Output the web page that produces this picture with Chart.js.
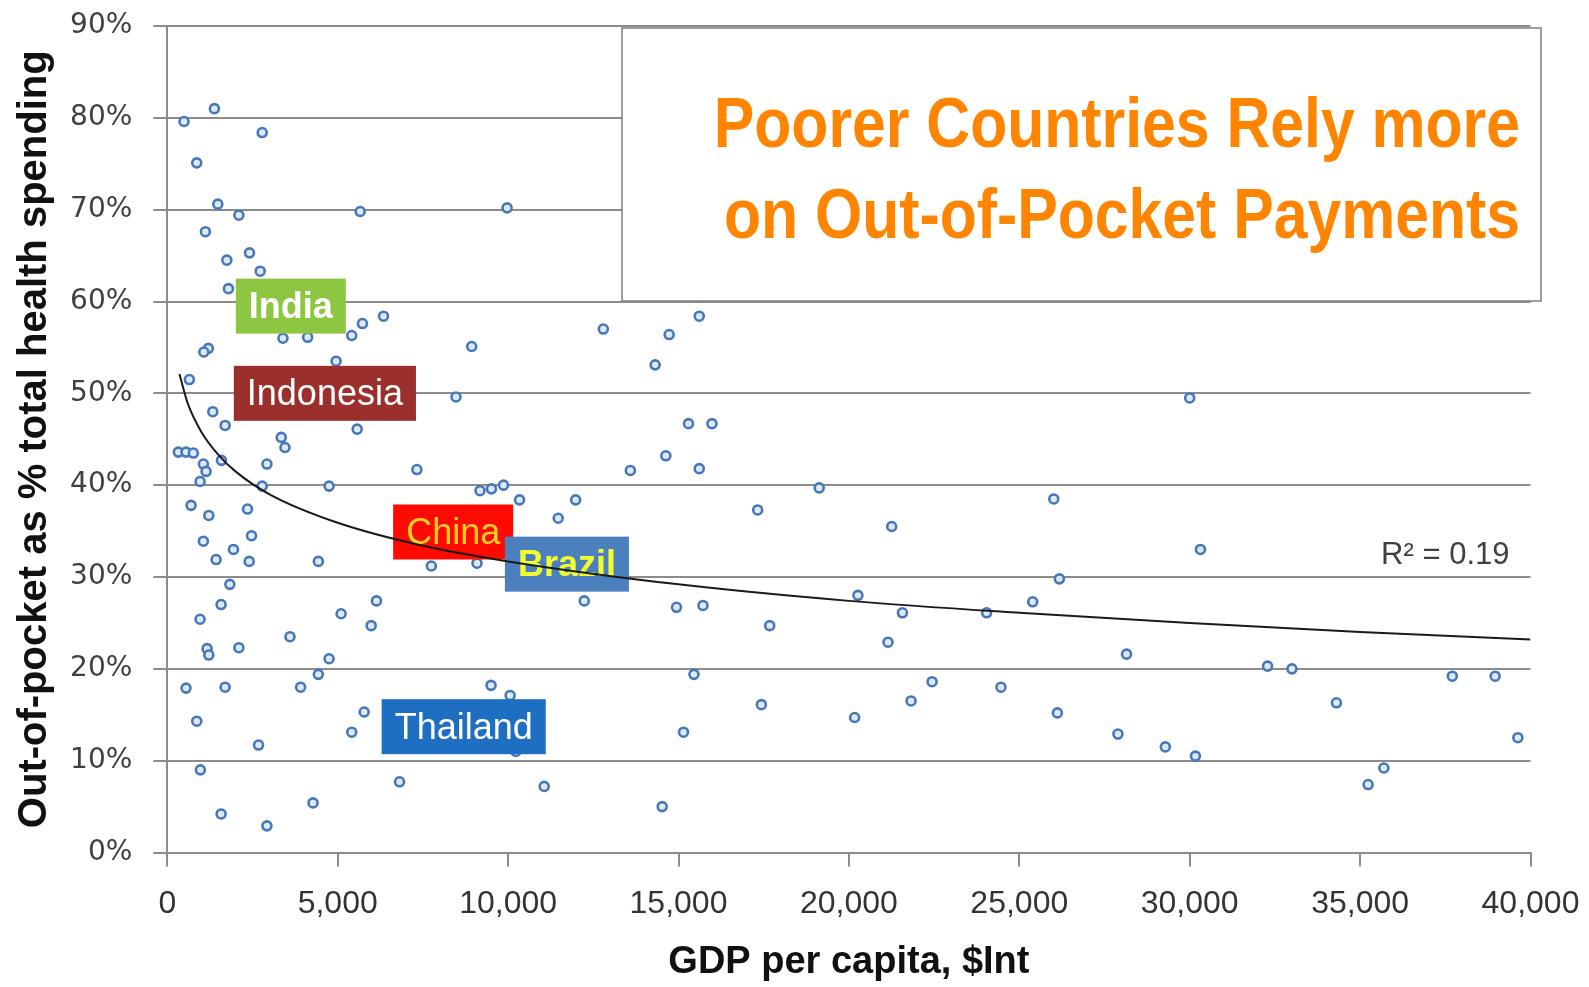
<!DOCTYPE html>
<html>
<head>
<meta charset="utf-8">
<script src="https://cdn.jsdelivr.net/npm/chart.js@4.4.0/dist/chart.umd.min.js"></script>
<style>
  html, body { margin: 0; padding: 0; background: #fff; }
  #chart { display: block; }
</style>
</head>
<body>
<canvas id="chart" width="1589" height="987"></canvas>
<script>
// GDP per capita ($Int) and out-of-pocket share (%) per country
const gdpPerCapita = [
    1382, 491, 2785, 864, 1482, 2100, 5659, 9971, 1118, 2412,
    1747, 2726, 1794, 6344, 5726, 5412, 3394, 4118, 8932, 12794,
    1206, 1071, 4953, 647, 8471, 1335, 1697, 5571, 3344, 3453,
    324, 550, 765, 1059, 1138, 1588, 2923, 962, 7324, 2785,
    4747, 13588, 9176, 9512, 9865, 10335, 11982, 11471, 697, 1218,
    2353, 1059, 2471, 1941, 1432, 2403, 4432, 7747, 9088, 12235,
    1835, 1579, 962, 6138, 5100, 5982, 3600, 1168, 1218, 2100,
    4747, 4432, 550, 1697, 3912, 9500, 10059, 864, 5776, 5412,
    2677, 10226, 971, 6815, 11059, 4276, 1579, 2923,
    15609, 14726, 14315, 15294, 15982, 14629, 15609, 19129, 17324, 26012,
    21256, 26176, 14941, 15718, 20265, 21571, 24041, 25394, 17676, 21147,
    15453, 22441, 24462, 17432, 21824, 20168, 26118, 15147, 14521,
    30000, 30315, 28147, 32285, 33000, 34306, 37706, 38962, 27894, 29285,
    30168, 39629, 35235, 35697
];
const outOfPocket = [
    81.0, 79.6, 78.4, 75.1, 70.6, 69.4, 69.8, 70.2, 67.6, 65.3,
    64.5, 63.3, 61.4, 58.4, 57.6, 56.3, 56.0, 56.1, 55.1, 57.0,
    54.9, 54.5, 53.5, 51.5, 49.6, 48.0, 46.5, 46.1, 45.2, 44.1,
    43.6, 43.6, 43.5, 42.3, 41.5, 42.7, 42.3, 40.4, 41.7, 39.9,
    39.9, 41.6, 39.4, 39.6, 40.0, 38.4, 38.4, 36.4, 37.8, 36.7,
    37.4, 33.9, 34.5, 33.0, 31.9, 31.7, 31.7, 31.2, 31.5, 27.4,
    29.2, 27.0, 25.4, 27.4, 26.0, 24.7, 23.5, 22.2, 21.5, 22.3,
    21.1, 19.4, 17.9, 18.0, 18.0, 18.2, 17.1, 14.3, 15.3, 13.1,
    11.7, 11.0, 9.0, 7.7, 7.2, 5.4, 4.2, 2.9,
    58.4, 56.4, 53.1, 46.7, 46.7, 43.2, 41.8, 39.7, 37.3, 38.5,
    35.5, 29.8, 26.7, 26.9, 28.0, 26.1, 26.1, 27.3, 24.7, 22.9,
    19.4, 18.6, 18.0, 16.1, 16.5, 14.7, 15.2, 13.1, 5.0,
    49.5, 33.0, 21.6, 20.3, 20.0, 16.3, 19.2, 19.2, 12.9, 11.5,
    10.5, 12.5, 7.4, 9.2
];

// logarithmic trend line
const trendGdp = [356, 600, 1000, 1500, 2000, 3000, 5000, 7500, 10000, 15000, 20000, 25000, 30000, 35000, 40000];
const trendShare = [52.1, 48.9, 45.8, 43.3, 41.5, 39.0, 35.9, 33.4, 31.7, 29.2, 27.4, 26.1, 25.0, 24.0, 23.2];

// highlighted countries (label box centres)
const countryNames = ['India', 'Indonesia', 'China', 'Brazil', 'Thailand'];
const countryGdp = [3624, 4624, 8388, 11726, 8697];
const countryShare = [59.5, 50.0, 34.9, 31.4, 13.7];

const titleLines = ['Poorer Countries Rely more', 'on Out-of-Pocket Payments'];
const r2Text = 'R\u00B2 = 0.19';

const labelStyles = {
    India: { bg: '#8DC641', fg: '#ffffff', bold: true },
    Indonesia: { bg: '#9A2F2C', fg: '#ffffff', bold: false },
    China: { bg: '#FF0A00', fg: '#FFD21E', bold: false },
    Brazil: { bg: '#4B7FBE', fg: '#F2FF2E', bold: true },
    Thailand: { bg: '#1E6FC1', fg: '#ffffff', bold: false }
};

const annotations = {
    id: 'annotations',
    beforeDatasetDraw(chart, args) {
        if (args.index !== 1) return;
        const { ctx, scales: { x, y } } = chart;
        ctx.save();
        countryNames.forEach((name, i) => {
            const st = labelStyles[name];
            ctx.font = (st.bold ? 'bold ' : '') + '36px "Liberation Sans", Arial, sans-serif';
            const w = ctx.measureText(name).width + 26;
            const h = 55;
            const cx = x.getPixelForValue(countryGdp[i]);
            const cy = y.getPixelForValue(countryShare[i]);
            ctx.fillStyle = st.bg;
            ctx.fillRect(cx - w / 2, cy - h / 2, w, h);
            ctx.fillStyle = st.fg;
            ctx.textAlign = 'center';
            ctx.textBaseline = 'middle';
            ctx.fillText(name, cx, cy + 2);
        });
        ctx.restore();
    },
    afterDraw(chart) {
        const { ctx, scales: { x, y } } = chart;
        ctx.save();
        // R squared
        ctx.font = '31px "Liberation Sans", Arial, sans-serif';
        ctx.fillStyle = '#404040';
        ctx.textAlign = 'center';
        ctx.textBaseline = 'middle';
        ctx.fillText(r2Text, x.getPixelForValue(37500), y.getPixelForValue(32.3));

        // title box
        ctx.fillStyle = '#ffffff';
        ctx.fillRect(622, 28, 919, 273);
        ctx.strokeStyle = '#7f7f7f';
        ctx.lineWidth = 1.5;
        ctx.strokeRect(622, 28, 919, 273);
        ctx.fillStyle = '#FF8400';
        ctx.font = 'bold 71px "Liberation Sans", Arial, sans-serif';
        ctx.textAlign = 'right';
        ctx.textBaseline = 'alphabetic';
        const baselines = [147, 238];
        titleLines.forEach((line, i) => {
            ctx.save();
            ctx.translate(1520, baselines[i]);
            ctx.scale(0.855, 1);
            ctx.fillText(line, 0, 0);
            ctx.restore();
        });
        ctx.restore();
    }
};

class Main {
    constructor() {
        this.canvas = document.getElementById('chart');
        this.initChart();
    }

    initChart() {
        const points = gdpPerCapita.map((g, i) => ({ x: g, y: outOfPocket[i] }));
        const trend = trendGdp.map((g, i) => ({ x: g, y: trendShare[i] }));
        const gridColor = '#8c8c8c';

        const config = {
            type: 'scatter',
            data: {
                datasets: [
                    {
                        label: 'Countries',
                        data: points,
                        order: 1,
                        pointRadius: 4.5,
                        pointBorderWidth: 2.6,
                        borderColor: '#4677B8',
                        backgroundColor: '#dfe8f5'
                    },
                    {
                        label: 'Trend',
                        type: 'line',
                        data: trend,
                        order: 0,
                        showLine: true,
                        pointRadius: 0,
                        borderColor: '#1a1a1a',
                        borderWidth: 2,
                        cubicInterpolationMode: 'monotone',
                        fill: false
                    }
                ]
            },
            options: {
                responsive: false,
                animation: false,
                layout: { padding: { top: 26, right: 58.5, left: 0, bottom: 0 } },
                plugins: {
                    legend: { display: false },
                    tooltip: { enabled: false }
                },
                scales: {
                    x: {
                        type: 'linear',
                        min: 0,
                        max: 40000,
                        afterFit: (axis) => {
                            axis.height = 134.5;
                            axis.paddingLeft = 0;
                            axis.paddingRight = 0;
                        },
                        border: { color: gridColor, width: 2 },
                        grid: { drawOnChartArea: false, tickLength: 14, color: gridColor, lineWidth: 2 },
                        ticks: {
                            stepSize: 5000,
                            padding: 18,
                            color: '#333333',
                            font: { family: '"Liberation Sans", Arial, sans-serif', size: 32 },
                            callback: (v) => v.toLocaleString('en-US')
                        },
                        title: {
                            display: true,
                            text: 'GDP per capita, $Int',
                            color: '#111111',
                            padding: { top: 0, bottom: 2 },
                            font: { family: '"Liberation Sans", Arial, sans-serif', size: 38, weight: 'bold' }
                        }
                    },
                    y: {
                        min: 0,
                        max: 90,
                        afterFit: (axis) => {
                            axis.width = 167.3;
                            axis.paddingTop = 0;
                            axis.paddingBottom = 0;
                        },
                        border: { color: gridColor, width: 2 },
                        grid: { tickLength: 14, color: gridColor, lineWidth: 2 },
                        ticks: {
                            stepSize: 10,
                            padding: 21,
                            color: '#404040',
                            font: { family: '"DejaVu Sans", sans-serif', size: 28 },
                            callback: (v) => v + '%'
                        },
                        title: {
                            display: true,
                            text: 'Out-of-pocket as % total health spending',
                            color: '#111111',
                            padding: { top: 11, bottom: 0 },
                            font: { family: '"Liberation Sans", Arial, sans-serif', size: 40, weight: 'bold' }
                        }
                    }
                }
            },
            plugins: [annotations]
        };
        new Chart(this.canvas, config);
    }
}

window.onload = () => {
    new Main();
};
</script>
</body>
</html>
